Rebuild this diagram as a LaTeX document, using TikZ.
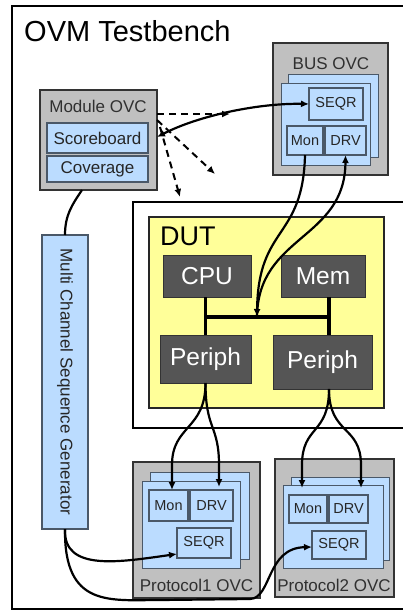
\documentclass[tikz,border=0pt]{standalone}
\usepackage{fontspec}
\setmainfont{Liberation Sans}
\usetikzlibrary{arrows.meta}
\definecolor{graybox}{HTML}{C0C0C0}
\definecolor{grayedge}{HTML}{333333}
\definecolor{lblue}{HTML}{BBDCFF}
\definecolor{bedge}{HTML}{4A5868}
\definecolor{darkbox}{HTML}{555555}
\definecolor{dutyellow}{HTML}{FFFF99}
\definecolor{lbltext}{HTML}{303030}
\begin{document}
\begin{tikzpicture}[x=1pt,y=-1pt,
  box/.style={inner sep=0pt, outer sep=0pt, anchor=center},
  ovc/.style={box, fill=graybox, draw=grayedge, line width=2pt},
  bluebg/.style={box, fill=lblue, draw=bedge, line width=1pt},
  unit/.style={box, fill=lblue, draw=bedge, line width=1.2pt, text=black!85, font=\fontsize{14.5}{16}\selectfont},
  biglbl/.style={font=\fontsize{17}{19}\selectfont},
  lbl/.style={inner sep=0pt, text=lbltext, biglbl},
  darkunit/.style={box, fill=darkbox, draw=grayedge, line width=1pt, text=white, font=\fontsize{24.5}{26}\selectfont},
  conn/.style={line width=2.2pt, -{Latex[length=8pt,width=7pt]}},
  dconn/.style={conn, line width=2pt, dash pattern=on 7pt off 5pt},
  busline/.style={line width=3.5pt}
]
\useasboundingbox (0,0) rectangle (403,610);
\fill[white] (0,0) rectangle (403,610);

% outer frame and DUT wrapper
\draw[line width=2pt] (406,6) -- (12,6) -- (12,609) -- (406,609);
\draw[line width=2pt] (406,202) -- (133,202) -- (133,428) -- (406,428);

\node[anchor=base west, inner sep=0pt, font=\fontsize{29}{31}\selectfont] (title) at (24,42) {OVM Testbench};

% Module OVC
\node[ovc, minimum width=117pt, minimum height=100pt] (mod) at (98.5,140) {};
\node[lbl] (modlbl) at (98,106) {Module OVC};
\node[unit, biglbl, minimum width=101pt, minimum height=30pt] (sb) at (97.5,138) {Scoreboard};
\node[unit, biglbl, minimum width=101pt, minimum height=26pt] (cov) at (97.5,169) {Coverage};

% BUS OVC
\node[ovc, minimum width=115pt, minimum height=132pt] (bus) at (330.5,109) {};
\node[lbl] (buslbl) at (331,64) {BUS OVC};
\node[bluebg, minimum width=90pt, minimum height=83pt] (bback) at (333,115.5) {};
\node[bluebg, minimum width=89pt, minimum height=82pt] (bfront) at (325.5,124) {};
\node[unit, minimum width=54pt, minimum height=32pt] (bseqr) at (336,104) {SEQR};
\node[unit, minimum width=36pt, minimum height=29pt] (bmon) at (305,140.5) {Mon};
\node[unit, minimum width=41pt, minimum height=29pt] (bdrv) at (345.5,140.5) {DRV};

% Multi channel sequence generator
\node[unit, biglbl, rotate=-90, minimum width=294pt, minimum height=46pt] (mcsg) at (65,382) {Multi Channel Sequence Generator};

% DUT
\node[box, fill=dutyellow, draw=black!85, line width=2pt, minimum width=235pt, minimum height=191pt] (dut) at (266.5,312.5) {};
\node[anchor=base west, inner sep=0pt, font=\fontsize{27}{29}\selectfont] (dutlbl) at (160,245) {DUT};
\node[darkunit, minimum width=88pt, minimum height=42pt] (cpu) at (207,276) {CPU};
\node[darkunit, minimum width=84pt, minimum height=42pt] (mem) at (323,276) {Mem};
\node[darkunit, minimum width=91pt, minimum height=48pt] (per1) at (205.5,359) {Periph};
\node[darkunit, minimum width=99pt, minimum height=54pt] (per2) at (322.5,362) {Periph};

% bus inside DUT
\coordinate (busmid) at (257,317);
\draw[busline] ([xshift=-1.5pt]cpu.south) -- ([xshift=-1.5pt]cpu.south |- per1.north);
\draw[busline] ([xshift=-1.5pt]cpu.south |- busmid) -- ([xshift=6pt]mem.south |- busmid);
\draw[busline] ([xshift=6pt]mem.south) -- ([xshift=6pt]mem.south |- per2.north);

% Protocol1 OVC
\node[ovc, minimum width=127pt, minimum height=136pt] (pr1) at (196.5,530) {};
\node[lbl] (pr1lbl) at (196.5,585) {Protocol1 OVC};
\node[bluebg, minimum width=99pt, minimum height=87pt] (p1back) at (199.5,515.5) {};
\node[bluebg, minimum width=98pt, minimum height=87pt] (p1front) at (191,524.5) {};
\node[unit, minimum width=39pt, minimum height=31pt] (p1mon) at (168.5,505.5) {Mon};
\node[unit, minimum width=43pt, minimum height=31pt] (p1drv) at (211.5,505.5) {DRV};
\node[unit, minimum width=54pt, minimum height=30pt] (p1seqr) at (204,543) {SEQR};

% Protocol2 OVC
\node[ovc, minimum width=119pt, minimum height=138pt] (pr2) at (334.5,528) {};
\node[lbl] (pr2lbl) at (334,585) {Protocol2 OVC};
\node[bluebg, minimum width=98pt, minimum height=83pt] (p2back) at (340,518.5) {};
\node[bluebg, minimum width=100pt, minimum height=83pt] (p2front) at (333,526.5) {};
\node[unit, minimum width=38pt, minimum height=28pt] (p2mon) at (308,509) {Mon};
\node[unit, minimum width=39pt, minimum height=28pt] (p2drv) at (348.5,509) {DRV};
\node[unit, minimum width=54pt, minimum height=28pt] (p2seqr) at (339,545) {SEQR};

% dashed arrows from Module OVC
\coordinate (d1) at (230,114);
\coordinate (d2) at (215,174);
\coordinate (d3) at (180,197);
\draw[dconn] ([yshift=26pt]mod.east) -- (d1);
\draw[dconn] ([yshift=20pt]mod.east) -- (d2);
\draw[dconn] ([xshift=3pt,yshift=13pt]mod.east) -- (d3);

% Scoreboard <-> BUS SEQR
\draw[line width=2.2pt, {Latex[length=8pt,width=7pt]}-{Latex[length=8pt,width=7pt]}]
  ([yshift=3pt]mod.east) .. controls (200,115) and (260,103) .. (bseqr.west);

% BUS monitor / driver to DUT bus
\draw[conn] (bmon.south) .. controls (303,240) and (258,225) .. (busmid);
\draw[conn] (busmid) .. controls (258,235) and (345,240) .. (bdrv.south);

% Module OVC -> sequence generator
\draw[line width=2.2pt] ([xshift=-16.5pt]mod.south) .. controls (72,205) and (65,215) .. (mcsg.west);

% Sequence generator -> protocol sequencers
\draw[conn] (mcsg.east) .. controls (63,572) and (120,562) .. ([yshift=-11pt]p1seqr.west);
\draw[conn] (mcsg.east) .. controls (64,608) and (110,600) .. (160,600) -- (250,599)
  .. controls (272,598) and (266,548) .. ([yshift=-2pt]p2seqr.west);

% Periph -> protocol Mon / DRV
\draw[conn] (per1.south) .. controls (205.5,430) and (172,425) .. (172,465) -- ([xshift=3.5pt]p1mon.north);
\draw[conn] (per1.south) .. controls (205.5,430) and (219,425) .. (219,465) -- ([xshift=7.5pt,yshift=3pt]p1drv.north);
\draw[conn] ([xshift=6.5pt]per2.south) .. controls (329,435) and (302,425) .. (302,465) -- ([xshift=-6pt,yshift=7pt]p2mon.north);
\draw[conn] ([xshift=6.5pt]per2.south) .. controls (329,435) and (361,425) .. (361,465) -- ([xshift=12.5pt,yshift=7pt]p2drv.north);
\end{tikzpicture}
\end{document}
